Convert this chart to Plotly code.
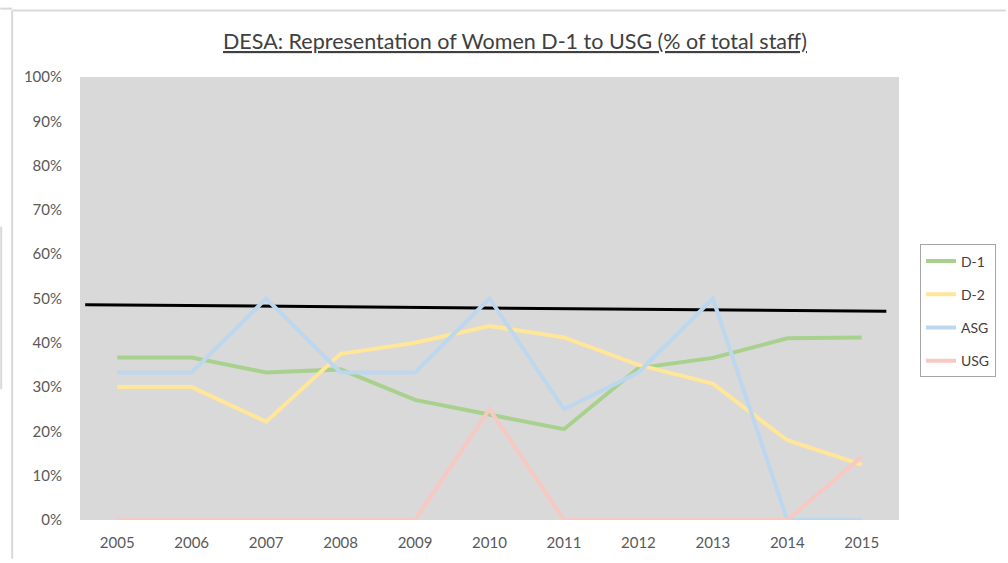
import plotly.graph_objects as go

years = [2005, 2006, 2007, 2008, 2009, 2010, 2011, 2012, 2013, 2014, 2015]
d1 = [36.7, 36.7, 33.3, 34.0, 27.1, 23.8, 20.5, 34.3, 36.6, 41.0, 41.2]
d2 = [30.0, 30.0, 22.2, 37.5, 40.0, 43.8, 41.2, 35.0, 30.8, 18.0, 12.5]
asg = [33.3, 33.3, 50.0, 33.3, 33.3, 50.0, 25.0, 33.3, 50.0, 0.0, 0.0]
usg = [0.0, 0.0, 0.0, 0.0, 0.0, 25.0, 0.0, 0.0, 0.0, 0.0, 14.3]
parity_x = [2004.57, 2015.33]
parity_y = [48.6, 47.1]

series = [
    ("D-1", d1, "#a9d18e"),
    ("D-2", d2, "#ffe699"),
    ("ASG", asg, "#bdd7ee"),
    ("USG", usg, "#f8c8c2"),
]

FONT = "Lato, 'Open Sans', sans-serif"

fig = go.Figure()
fig.add_trace(go.Scatter(x=parity_x, y=parity_y, mode="lines",
                         line=dict(color="black", width=3), showlegend=False,
                         hoverinfo="skip"))
for name, vals, col in series:
    fig.add_trace(go.Scatter(x=years, y=vals, name=name, mode="lines",
                             legendgroup=name,
                             line=dict(color=col, width=4)))

def px(x): return (x - 80) / 821
def py(y): return (524 - y) / 447

fig.update_layout(
    width=1008, height=563,
    margin=dict(l=80, r=107, t=77, b=39),
    paper_bgcolor="white", plot_bgcolor="#d9d9d9",
    font=dict(family=FONT, color="#595959", size=14),
    showlegend=True,
    legend=dict(x=px(922), y=py(246), xanchor="left", yanchor="top",
                bordercolor="#a6a6a6", borderwidth=1, bgcolor="white",
                font=dict(size=14, color="#404040"), tracegroupgap=12),
    annotations=[dict(text="<u>DESA: Representation of Women D-1 to USG (% of total staff)</u>",
                      x=px(516), y=py(41), xref="paper", yref="paper",
                      xanchor="center", yanchor="middle",
                      showarrow=False, font=dict(size=21.5, color="#404040", family=FONT))],
)

fig.update_xaxes(range=[2004.5, 2015.5], tickvals=years, ticktext=[str(y) for y in years],
                 showgrid=False, zeroline=False, showline=False,
                 ticks="outside", ticklen=9, tickcolor="rgba(0,0,0,0)",
                 tickfont=dict(size=15, color="#595959"))
fig.update_yaxes(range=[0, 100], tickvals=list(range(0, 101, 10)),
                 ticktext=[f"{v}%" for v in range(0, 101, 10)],
                 showgrid=False, zeroline=False, showline=False,
                 ticks="outside", ticklen=14, tickcolor="rgba(0,0,0,0)",
                 tickfont=dict(size=15, color="#595959"))

# spreadsheet frame lines
frame = dict(type="line", xref="paper", yref="paper", line=dict(color="#d9d9d9", width=2))
fig.add_shape(**frame, x0=px(12), x1=px(1008), y0=py(10), y1=py(10))
fig.add_shape(**frame, x0=px(12), x1=px(12), y0=py(10), y1=py(563))
fig.add_shape(**frame, x0=px(0), x1=px(12), y0=py(8), y1=py(8))
fig.add_shape(**frame, x0=px(1), x1=px(1), y0=py(228), y1=py(392))

fig.write_html("out.html", config={"displayModeBar": False},
               post_script="document.body.style.margin='0';")
